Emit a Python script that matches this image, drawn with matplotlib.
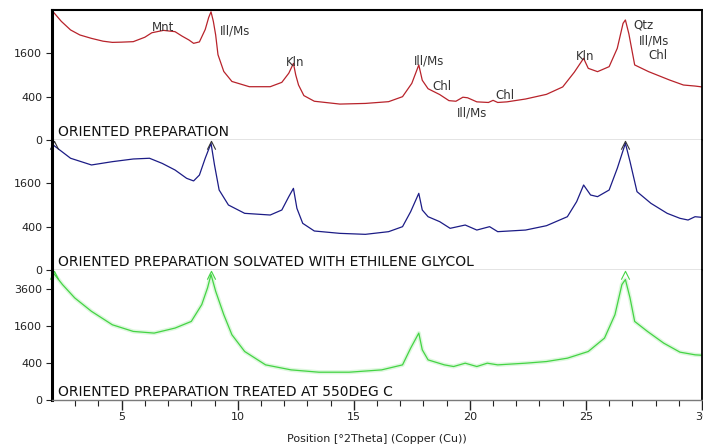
import matplotlib
matplotlib.use("Agg")
import matplotlib.pyplot as plt
import numpy as np
from matplotlib.path import Path

# 2theta positions / counts
tt_1 = [2.05, 2.4, 2.8, 3.2, 3.7, 4.2, 4.6, 5.0, 5.5, 6.0, 6.3, 6.8, 7.3, 7.6, 7.9, 8.1,
        8.35, 8.6, 8.75, 8.85, 8.95, 9.05, 9.15, 9.4, 9.75, 10.5, 11.4, 11.9, 12.2, 12.4,
        12.5, 12.62, 12.85, 13.3, 14.4, 15.5, 16.5, 17.1, 17.5, 17.8, 17.95, 18.2, 18.7,
        19.1, 19.4, 19.7, 19.9, 20.3, 20.8, 21.0, 21.2, 21.6, 22.4, 23.3, 24.0, 24.5,
        24.9, 25.1, 25.5, 26.0, 26.35, 26.6, 26.7, 26.85, 27.1, 27.7, 28.6, 29.2, 29.7, 30.0]
cps_1 = [3500, 3000, 2580, 2350, 2200, 2080, 2030, 2040, 2060, 2250, 2450, 2560, 2500, 2300,
         2130, 1990, 2050, 2600, 3200, 3500, 3000, 2350, 1550, 1000, 730, 605, 605, 708, 950,
         1250, 900, 644, 420, 320, 275, 285, 313, 400, 684, 1200, 760, 560, 440, 330, 320,
         390, 380, 310, 300, 335, 300, 310, 358, 444, 600, 980, 1420, 1094, 995, 1146, 1790,
         2900, 3070, 2400, 1200, 995, 767, 644, 620, 600]

tt_2 = [2.05, 2.8, 3.7, 4.6, 5.5, 6.2, 6.75, 7.3, 7.8, 8.1, 8.35, 8.6, 8.85, 9.0, 9.2,
        9.6, 10.3, 11.4, 11.9, 12.2, 12.4, 12.55, 12.8, 13.3, 14.4, 15.5, 16.5, 17.1, 17.45,
        17.8, 17.95, 18.2, 18.7, 19.15, 19.8, 20.3, 20.85, 21.2, 22.4, 23.3, 24.2, 24.6,
        24.9, 25.2, 25.5, 26.0, 26.35, 26.7, 26.9, 27.2, 27.8, 28.5, 29.05, 29.4, 29.7, 30.0]
cps_2 = [3330, 2660, 2350, 2500, 2625, 2660, 2420, 2130, 1790, 1690, 1920, 2660, 3420, 2350,
         1363, 900, 684, 644, 767, 1146, 1420, 810, 464, 324, 286, 271, 313, 400, 725, 1252,
         767, 605, 498, 370, 431, 340, 400, 313, 340, 418, 605, 995, 1539, 1198, 1146, 1363,
         2200, 3420, 2500, 1307, 947, 684, 569, 532, 605, 590]

tt_3 = [2.0, 2.45, 2.98, 3.7, 4.6, 5.5, 6.4, 7.3, 8.0, 8.45, 8.7, 8.85, 9.05, 9.4, 9.75,
        10.3, 11.2, 12.3, 13.5, 14.8, 16.2, 17.1, 17.45, 17.8, 17.95, 18.2, 18.9, 19.3,
        19.8, 20.3, 20.75, 21.2, 22.4, 23.3, 24.2, 25.1, 25.8, 26.25, 26.55, 26.7, 26.9,
        27.1, 27.65, 28.35, 29.05, 29.7, 30.0]
cps_3 = [4810, 3865, 3020, 2280, 1640, 1364, 1298, 1500, 1790, 2637, 3644, 4565, 3430, 2110,
         1234, 682, 358, 263, 224, 224, 263, 358, 780, 1298, 730, 467, 358, 325, 393, 325,
         393, 358, 393, 429, 507, 682, 1111, 2110, 3865, 4207, 3020, 1790, 1364, 938, 664,
         592, 580]

titles = ["ORIENTED PREPARATION",
          "ORIENTED PREPARATION SOLVATED WITH ETHILENE GLYCOL",
          "ORIENTED PREPARATION TREATED AT 550DEG C"]
colors = ["#b8232b", "#1c1c86", "#44d444"]
ymax = [3600, 3600, 4900]
yticks = [[0, 400, 1600], [0, 400, 1600], [0, 400, 1600, 3600]]

# phase labels on the top scan
lab_text = ["Mnt", "Ill/Ms", "Kln", "Ill/Ms", "Chl", "Ill/Ms", "Chl", "Kln", "Qtz", "Ill/Ms", "Chl"]
lab_tt = [6.78, 9.24, 12.47, 18.25, 18.81, 20.1, 21.5, 24.97, 27.04, 27.26, 27.69]
lab_cps = [2712, 2523, 1292, 1325, 619, 155, 430, 1498, 2808, 2094, 1534]
lab_ha = ["center", "left", "center", "center", "center", "center", "center", "center",
          "left", "left", "left"]

# reference peak markers
mark_tt = [2.1, 8.85, 26.7]

fig = plt.figure(figsize=(7.03, 4.47), dpi=100)
left, width, h = 52 / 703, 650 / 703, 130 / 447
bottoms = [(447 - 140) / 447, (447 - 270) / 447, (447 - 400) / 447]
fwd = lambda v: np.sqrt(np.clip(v, 0, None))
inv = lambda v: np.square(v)
caret = Path([(-1, -1), (0, 1), (1, -1)], [Path.MOVETO, Path.LINETO, Path.LINETO])

data = [(tt_1, cps_1), (tt_2, cps_2), (tt_3, cps_3)]
axes = []
for i in range(3):
    ax = fig.add_axes([left, bottoms[i], width, h])
    axes.append(ax)
    x, y = data[i]
    if i == 2:
        ax.plot(x, y, color=colors[i], lw=3.0, alpha=0.18, solid_joinstyle="round")
    ax.plot(x, y, color=colors[i], lw=0.9)
    ax.set_yscale("function", functions=(fwd, inv))
    ax.set_xlim(2, 30)
    ax.set_ylim(0, ymax[i])
    ax.set_yticks(yticks[i])
    ax.set_yticklabels([str(t) for t in yticks[i]])
    ax.minorticks_off()
    ax.tick_params(axis="y", direction="out", length=4, width=0.8, labelsize=8,
                   colors="#222222", pad=3)
    ax.spines["left"].set_linewidth(2.2)
    ax.spines["left"].set_color("black")
    ax.spines["right"].set_linewidth(1.3)
    ax.spines["right"].set_color("black")
    ax.spines["bottom"].set_color("#7a7a7a")
    ax.spines["bottom"].set_linewidth(1.0)
    if i == 0:
        ax.spines["top"].set_linewidth(1.5)
        ax.spines["top"].set_color("black")
    else:
        ax.spines["top"].set_visible(False)
    ax.text(0.01, 0.005, titles[i], transform=ax.transAxes, fontsize=10,
            family="DejaVu Sans", color="#111111", ha="left", va="bottom")
    if i > 0:
        mcol = "#333333" if i == 1 else colors[2]
        ax.plot(mark_tt, [0.965] * len(mark_tt), linestyle="none", marker=caret,
                markersize=6, markerfacecolor="none", markeredgecolor=mcol,
                markeredgewidth=0.8, transform=ax.get_xaxis_transform(), clip_on=False)
    if i < 2:
        ax.set_xticks([])
    else:
        ax.set_xticks([5, 10, 15, 20, 25, 30])
        ax.set_xticks(np.arange(3, 30, 1), minor=True)
        ax.tick_params(axis="x", which="major", direction="out", length=7, width=1.0,
                       labelsize=8, colors="#222222", pad=2)
        ax.tick_params(axis="x", which="minor", direction="out", length=4, width=0.8,
                       colors="#222222")
        ax.set_xlabel("Position [°2Theta] (Copper (Cu))", fontsize=8, color="#222222",
                      labelpad=8)

for t, x, y, ha in zip(lab_text, lab_tt, lab_cps, lab_ha):
    axes[0].text(x, y, t, fontsize=8.5, color="#333333", ha=ha, va="center")

fig.savefig("out.png", dpi=100)
